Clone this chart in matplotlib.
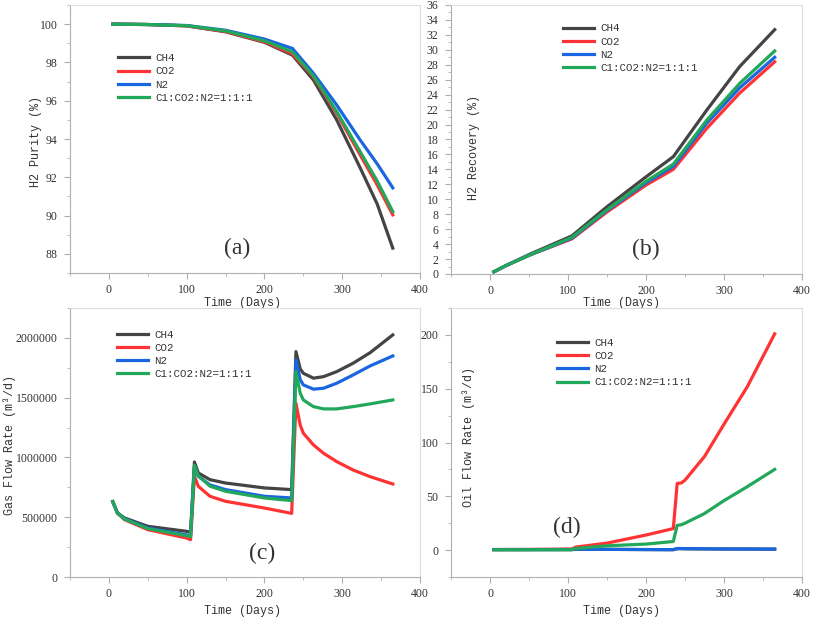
import matplotlib
matplotlib.use("Agg")
import matplotlib.pyplot as plt
from matplotlib.ticker import MultipleLocator, FuncFormatter

# ---------------- data ----------------
labels = ["CH4", "CO2", "N2", "C1:CO2:N2=1:1:1"]
colors = ["#444444", "#ff3333", "#1a66e0", "#22a85a"]

# (a) H2 purity
t_a = [5, 50, 100, 150, 200, 236, 263, 293, 323, 345, 365]
pur_ch4 = [100, 99.98, 99.91, 99.6, 99.05, 98.38, 97.08, 94.99, 92.5, 90.6, 88.3]
pur_co2 = [100, 99.98, 99.91, 99.62, 99.08, 98.45, 97.25, 95.34, 93.17, 91.6, 90.04]
pur_n2 = [100, 99.98, 99.93, 99.68, 99.22, 98.73, 97.43, 95.77, 93.95, 92.7, 91.45]
pur_mix = [100, 99.98, 99.92, 99.65, 99.13, 98.55, 97.3, 95.43, 93.34, 91.8, 90.21]

# (b) H2 recovery
t_b = [5, 20, 50, 105, 150, 200, 235, 278, 320, 365]
rec_ch4 = [0.3, 1.1, 2.6, 5.1, 9.0, 13.0, 15.7, 21.95, 27.75, 32.7]
rec_co2 = [0.3, 1.1, 2.5, 4.7, 8.3, 11.9, 14.0, 19.5, 24.2, 28.4]
rec_n2 = [0.3, 1.1, 2.5, 4.8, 8.5, 12.2, 14.4, 20.2, 24.9, 29.0]
rec_mix = [0.3, 1.1, 2.5, 4.9, 8.6, 12.4, 14.7, 20.6, 25.5, 29.85]

# (c) gas flow rate
t_c = [5, 11, 20, 50, 100, 105, 110, 115, 130, 150, 200, 235, 240.5, 246, 250,
       263, 276, 293, 314, 336, 365]
gas_ch4 = [630000, 535000, 494000, 424000, 382000, 374000, 962000, 870000, 814000,
           786000, 745000, 731000, 1885000, 1740000, 1704000, 1663000, 1676000,
           1718000, 1788000, 1877000, 2025000]
gas_co2 = [630000, 535000, 480000, 396000, 326000, 312000, 842000, 758000, 675000,
           633000, 577000, 532000, 1453000, 1270000, 1203000, 1105000, 1035000,
           965000, 895000, 839000, 778000]
gas_n2 = [630000, 535000, 488000, 410000, 352000, 345000, 926000, 842000, 770000,
          731000, 675000, 661000, 1816000, 1650000, 1607000, 1571000, 1579000,
          1621000, 1690000, 1766000, 1849000]
gas_mix = [630000, 535000, 485000, 405000, 345000, 338000, 934000, 846000, 760000,
           717000, 661000, 639000, 1718000, 1537000, 1481000, 1425000, 1406000,
           1406000, 1425000, 1448000, 1481000]

# (d) oil flow rate
t_d = [5, 50, 105, 110, 150, 200, 235, 240, 245, 250, 275, 300, 330, 365]
oil_ch4 = [0.5, 0.5, 0.5, 0.8, 0.7, 0.5, 0.4, 1.3, 1.3, 1.2, 1.1, 1.0, 1.0, 0.9]
oil_co2 = [0.5, 0.6, 1.0, 2.8, 6.5, 14.0, 20.0, 62.0, 62.3, 65.0, 87.0, 117.0, 152.0, 201.0]
oil_n2 = [0.5, 0.5, 0.5, 0.8, 0.7, 0.5, 0.4, 1.5, 1.5, 1.4, 1.2, 1.1, 1.0, 0.9]
oil_mix = [0.3, 0.3, 0.4, 1.5, 4.0, 5.6, 8.0, 23.0, 23.5, 25.0, 34.0, 46.0, 59.0, 75.0]

# ---------------- plotting ----------------
MONO = ["Liberation Mono", "DejaVu Sans Mono"]
SERIF = ["Liberation Serif", "DejaVu Serif"]
TXT = "#333333"
LBL = 8.5

fig = plt.figure(figsize=(8.13, 6.19), dpi=100)
W, H = 813, 619


def make_ax(l, r, t, b):
    return fig.add_axes([l / W, 1 - b / H, (r - l) / W, (b - t) / H])


axes_spec = [
    (make_ax(70, 420, 5, 273), t_a, [pur_ch4, pur_co2, pur_n2, pur_mix]),
    (make_ax(451, 802, 5, 274), t_b, [rec_ch4, rec_co2, rec_n2, rec_mix]),
    (make_ax(70, 420, 308, 577), t_c, [gas_ch4, gas_co2, gas_n2, gas_mix]),
    (make_ax(451, 802, 308, 577), t_d, [oil_ch4, oil_co2, oil_n2, oil_mix]),
]

for ax, t, series in axes_spec:
    for y, c, lab in zip(series, colors, labels):
        ax.plot(t, y, color=c, lw=2.3, label=lab, solid_joinstyle="round")
    ax.set_xlim(-50, 400)
    ax.xaxis.set_major_locator(MultipleLocator(100))
    ax.xaxis.set_minor_locator(MultipleLocator(50))
    for s in ["left", "bottom"]:
        ax.spines[s].set_color("#b0b0b0")
    for s in ["top", "right"]:
        ax.spines[s].set_color("#dddddd")
    ax.tick_params(which="both", direction="out", colors="#b0b0b0",
                   labelcolor=TXT, labelsize=8.5)
    ax.tick_params(which="major", length=4, width=0.8)
    ax.tick_params(which="minor", length=2.5, width=0.6)
    ax.tick_params(axis="x", pad=4)
    ax.tick_params(axis="y", pad=5)
    ax.set_xlabel("Time (Days)", family=MONO, fontsize=LBL, color=TXT)

ax_a, ax_b, ax_c, ax_d = [s[0] for s in axes_spec]
ax_a.set_ylim(87, 101)
ax_a.yaxis.set_major_locator(MultipleLocator(2))
ax_a.yaxis.set_minor_locator(MultipleLocator(1))
ax_b.set_ylim(0, 36)
ax_b.yaxis.set_major_locator(MultipleLocator(2))
ax_b.yaxis.set_minor_locator(MultipleLocator(1))
ax_c.set_ylim(0, 2250000)
ax_c.yaxis.set_major_locator(MultipleLocator(500000))
ax_c.yaxis.set_minor_locator(MultipleLocator(250000))
ax_c.yaxis.set_major_formatter(FuncFormatter(lambda v, p: f"{int(round(v))}"))
ax_d.set_ylim(-25, 225)
ax_d.yaxis.set_major_locator(MultipleLocator(50))
ax_d.yaxis.set_minor_locator(MultipleLocator(25))

fig.canvas.draw()
for ax in [ax_a, ax_b, ax_c, ax_d]:
    for lb in ax.get_xticklabels() + ax.get_yticklabels():
        lb.set_family(SERIF)

ax_a.set_ylabel("H2 Purity (%)", family=MONO, fontsize=LBL, color=TXT)
ax_b.set_ylabel("H2 Recovery (%)", family=MONO, fontsize=LBL, color=TXT)
ax_c.set_ylabel("Gas Flow Rate (m³/d)", family=MONO, fontsize=LBL, color=TXT)
ax_d.set_ylabel("Oil Flow Rate (m³/d)", family=MONO, fontsize=LBL, color=TXT)

ax_a.yaxis.set_label_coords(-0.08, 0.49)
ax_b.yaxis.set_label_coords(0.083, 0.47)
ax_c.yaxis.set_label_coords(-0.153, 0.49)
ax_d.yaxis.set_label_coords(0.068, 0.52)
ax_a.xaxis.set_label_coords(0.494, -0.088)
ax_b.xaxis.set_label_coords(0.487, -0.085)
ax_c.xaxis.set_label_coords(0.494, -0.104)
ax_d.xaxis.set_label_coords(0.487, -0.104)

# panel letters
kw = dict(fontsize=17, family=SERIF, color=TXT, ha="center", va="center")
ax_a.text(165, 88.3, "(a)", **kw)
ax_b.text(200, 3.3, "(b)", **kw)
ax_c.text(197, 200000, "(c)", **kw)
ax_d.text(99, 21, "(d)", **kw)

# legends
leg_pos = {ax_a: (0.137, 0.82), ax_b: (0.319, 0.932), ax_c: (0.134, 0.92), ax_d: (0.302, 0.89)}
for ax, (x, y) in leg_pos.items():
    leg = ax.legend(loc="upper left", bbox_to_anchor=(x, y), frameon=False,
                    borderpad=0, borderaxespad=0, handlelength=2.9, handletextpad=0.55,
                    labelspacing=0.3, prop={"family": MONO, "size": 7.8})
    for txt in leg.get_texts():
        txt.set_color(TXT)
    for ln in leg.get_lines():
        ln.set_linewidth(2.3)

fig.savefig("out.png", dpi=100)
